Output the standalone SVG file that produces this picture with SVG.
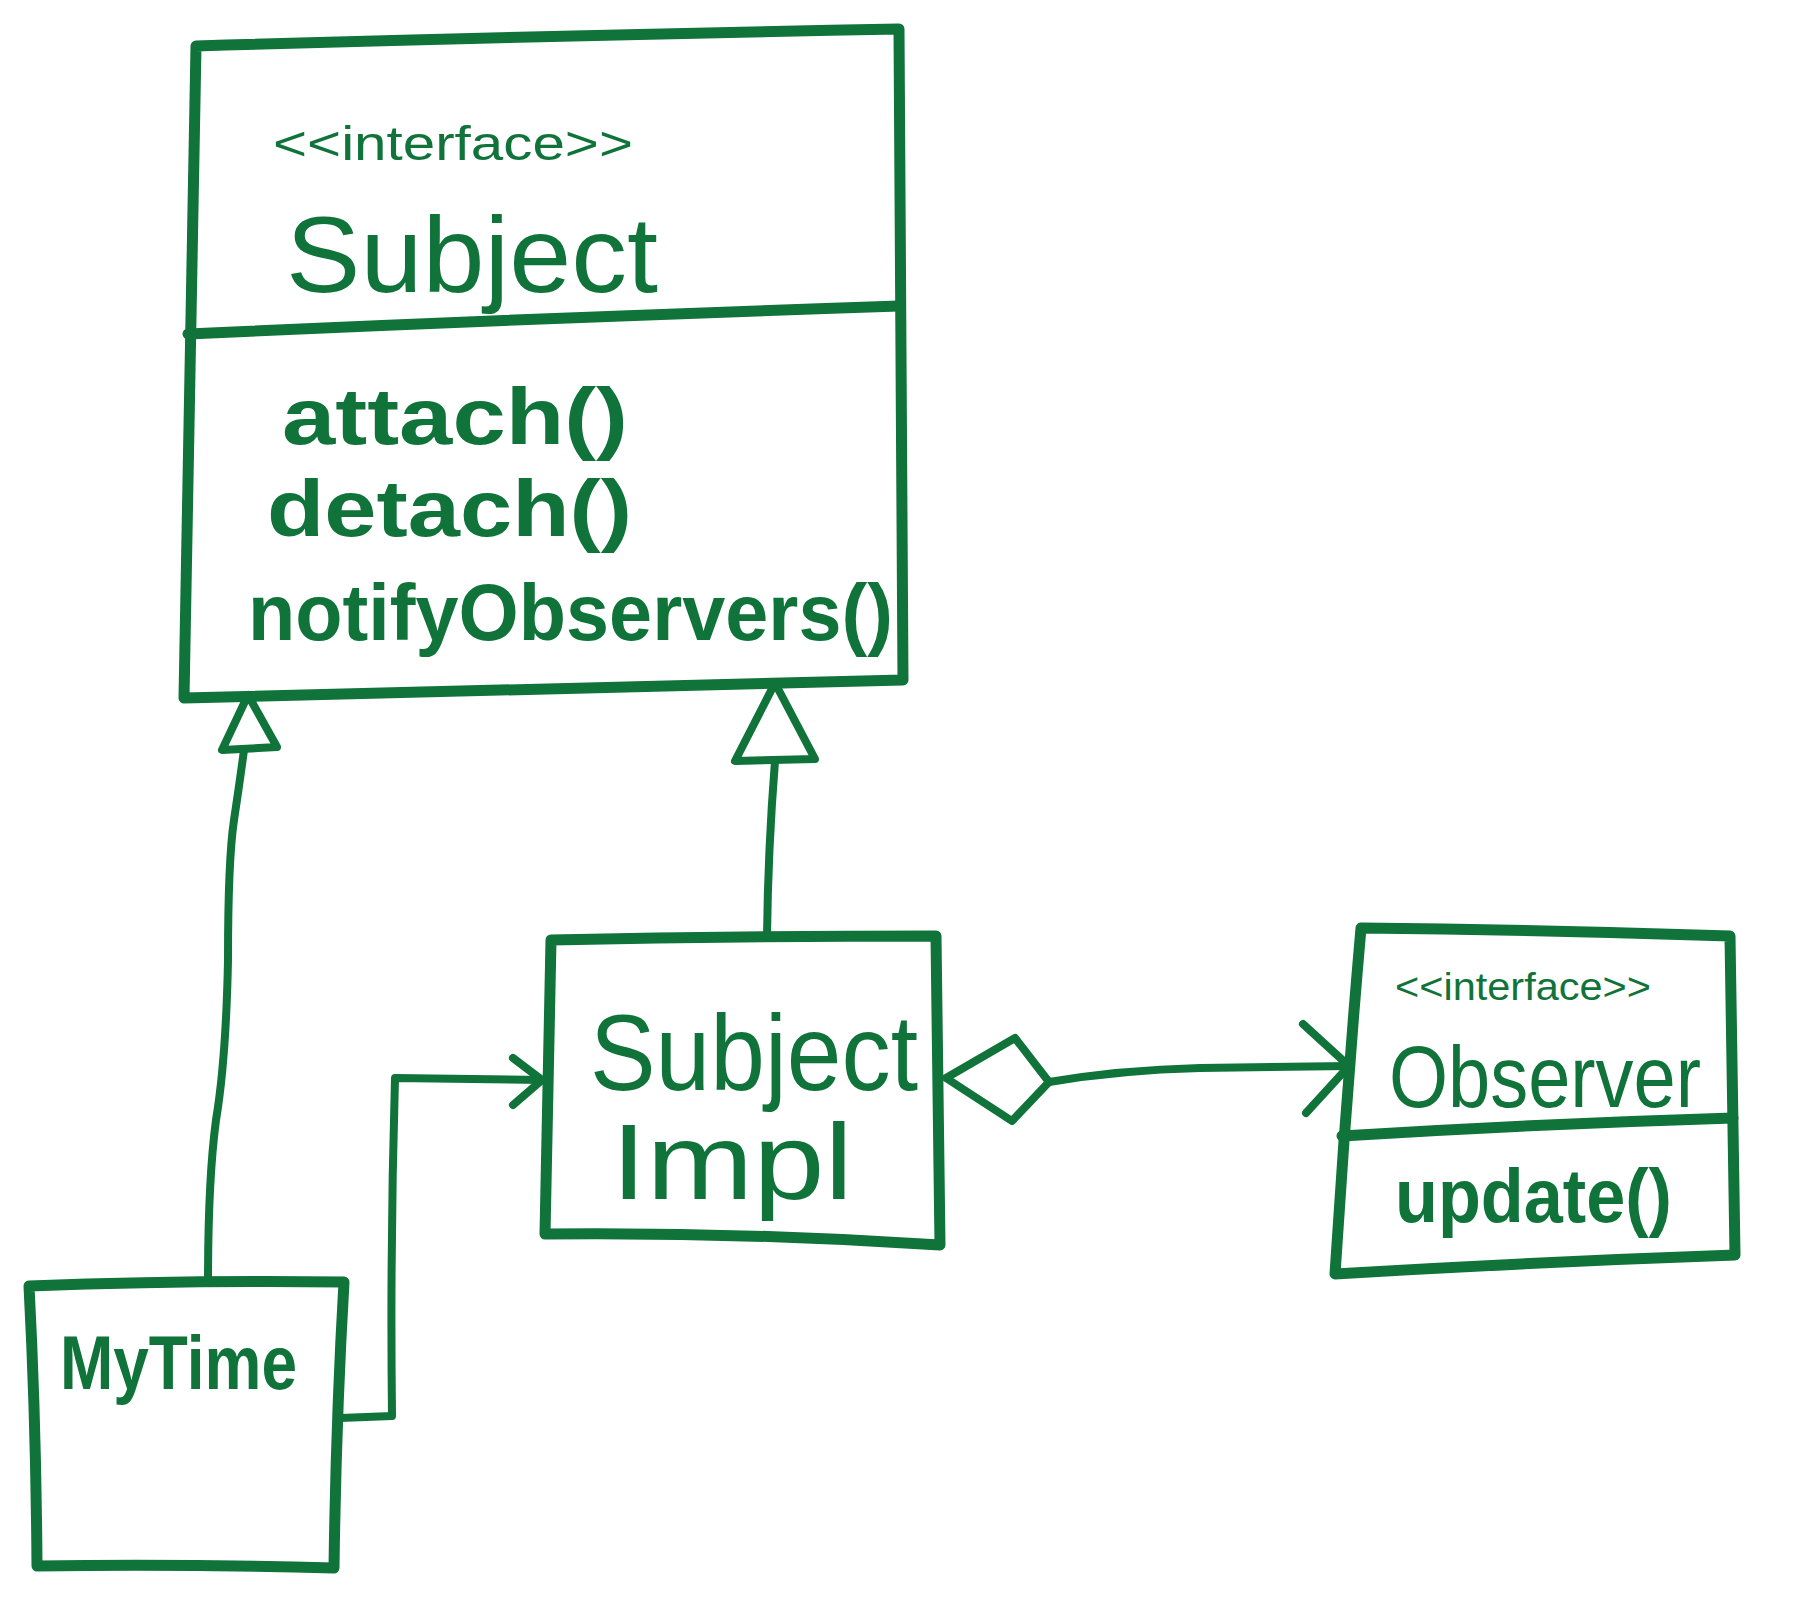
<svg xmlns="http://www.w3.org/2000/svg" width="1808" height="1600" viewBox="0 0 1808 1600">
<style>
.box{fill:none;stroke:#10733a;stroke-width:11;stroke-linecap:round;stroke-linejoin:round}
.ln{fill:none;stroke:#10733a;stroke-width:8;stroke-linecap:round;stroke-linejoin:round}
.t{fill:#10733a;font-family:"Liberation Sans","DejaVu Sans",sans-serif}
.st{font-size:48px}
.nm{font-size:108px}
.op{font-size:80px;font-weight:bold}
</style>
<rect width="1808" height="1600" fill="#ffffff"/>
<g id="subject">
<path class="box" d="M196,46 Q540,36 899,29 Q901,350 903,680 Q540,688 184,698 Q190,370 196,46 Z"/>
<path class="box" d="M188,334 Q540,318 899,306"/>
<text class="t st" x="273" y="160" textLength="360" lengthAdjust="spacingAndGlyphs">&lt;&lt;interface&gt;&gt;</text>
<text class="t nm" x="286" y="292" textLength="372" lengthAdjust="spacingAndGlyphs">Subject</text>
<text class="t op" x="282" y="444" textLength="346" lengthAdjust="spacingAndGlyphs">attach()</text>
<text class="t op" x="267" y="536" textLength="365" lengthAdjust="spacingAndGlyphs">detach()</text>
<text class="t op" x="248" y="640" textLength="645" lengthAdjust="spacingAndGlyphs">notifyObservers()</text>
</g>
<g id="subjectimpl">
<path class="box" d="M551,940 Q740,936 936,936 Q938,1090 940,1245 Q740,1232 545,1234 Q548,1090 551,940 Z"/>
<text class="t nm" x="590" y="1090" font-size="112" textLength="328" lengthAdjust="spacingAndGlyphs">Subject</text>
<text class="t nm" x="611" y="1199" textLength="242" lengthAdjust="spacingAndGlyphs">Impl</text>
</g>
<g id="observer">
<path class="box" d="M1361,928 Q1545,930 1730,936 Q1732,1100 1735,1255 Q1535,1262 1335,1274 Q1346,1100 1361,928 Z"/>
<path class="box" d="M1342,1136 Q1535,1124 1733,1118"/>
<text class="t" x="1395" y="1000" font-size="38" textLength="256" lengthAdjust="spacingAndGlyphs">&lt;&lt;interface&gt;&gt;</text>
<text class="t" x="1389" y="1107" font-size="88" textLength="312" lengthAdjust="spacingAndGlyphs">Observer</text>
<text class="t" x="1395" y="1222" font-size="76" font-weight="bold" textLength="277" lengthAdjust="spacingAndGlyphs">update()</text>
</g>
<g id="mytime">
<path class="box" d="M29,1286 Q190,1280 344,1282 Q336,1420 334,1568 Q185,1564 37,1566 Q36,1420 29,1286 Z"/>
<text class="t" x="60" y="1389" font-size="76" font-weight="bold" textLength="237" lengthAdjust="spacingAndGlyphs">MyTime</text>
</g>
<g id="connectors">
<path class="ln" d="M208,1282 Q208,1180 216,1120 Q226,1060 228,960 Q228,860 234,820 Q240,780 244,750"/>
<path class="ln" d="M248,695 L222,750 L277,747 Z"/>
<path class="ln" d="M775,761 Q768,850 767,936"/>
<path class="ln" d="M775,683 L735,761 L815,759 Z"/>
<path class="ln" d="M340,1418 L392,1416 Q390,1250 395,1078 L542,1080"/>
<path class="ln" d="M513,1058 L542,1080 L513,1105"/>
<path class="ln" d="M946,1078 L1015,1038 L1049,1082 L1012,1121 Z"/>
<path class="ln" d="M1049,1082 Q1120,1070 1200,1068 L1349,1066"/>
<path class="ln" d="M1303,1024 L1349,1066 L1306,1113"/>
</g>
</svg>
